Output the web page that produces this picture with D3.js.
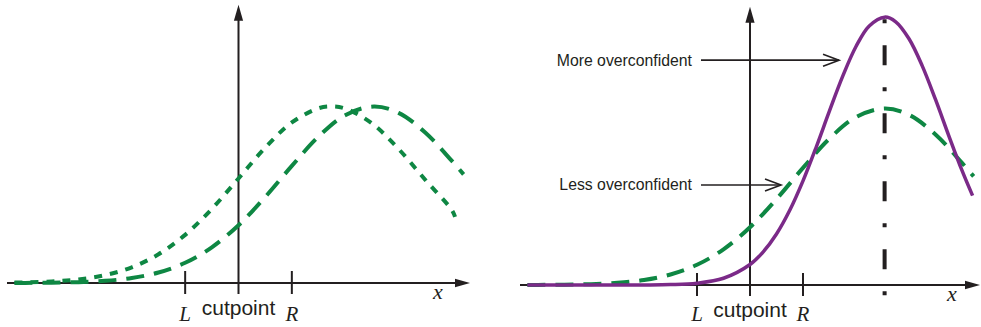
<!DOCTYPE html>
<html>
<head>
<meta charset="utf-8">
<script src="https://cdn.jsdelivr.net/npm/d3@7"></script>
<style>
html,body{margin:0;padding:0;background:#fff;}
svg{display:block;}
</style>
</head>
<body>
<svg id="chart" width="981" height="327"></svg>
<script>
// ---------- DATA ----------
const tickValues = [-1, 0, 1];
const tickLabels = ["L", "cutpoint", "R"];
const axisLabel = "x";
const axisExtent = [-4.34, 4.34];
const yMax = 0.37;

// left panel, short-dash curve
const shortX = [-4.2,-4,-3.5,-3,-2.5,-2,-1.5,-1,-0.5,0,0.5,1,1.5,1.74,2,2.5,3,3.5,4,4.06];
const shortY = [0.00052,0.00079,0.00203,0.00481,0.01047,0.02087,0.03818,0.06403,0.0985,0.139,0.1799,0.2135,0.2324,0.2347,0.232,0.2124,0.1783,0.1373,0.097,0.088];

// long-dash curve (left panel and right panel, less overconfident)
const longX = [-4.2,-4,-3.5,-3,-2.5,-2,-1.5,-1,-0.5,0,0.5,1,1.5,2,2.54,3,3.5,4,4.22];
const longY = [0.00009,0.00014,0.00043,0.00116,0.0029,0.00664,0.01395,0.02685,0.04744,0.07687,0.1143,0.1557,0.1947,0.2232,0.2347,0.2263,0.2001,0.1623,0.1445];

// right panel, solid purple (more overconfident)
const solidX = [-4.2,-4,-3.5,-3,-2.5,-2,-1.5,-1,-0.5,0,0.25,0.5,0.75,1,1.25,1.5,1.75,2,2.25,2.54,2.75,3,3.25,3.5,3.75,4,4.2];
const solidY = [0,0,0.0000002,0.0000017,0.0000142,0.0000963,0.000532,0.00241,0.00895,0.0272,0.0441,0.0678,0.0993,0.1384,0.1835,0.2315,0.2777,0.3171,0.3445,0.3562,0.35,0.3274,0.2914,0.2467,0.1987,0.1523,0.1188];

const modeX = 2.54;
const annotLabels = ["More overconfident", "Less overconfident"];
const annotFromX = [-0.925, -0.925];
const annotToX = [1.68, 0.585];
const annotY = [0.299, 0.133];

// ---------- STYLE ----------
const ink = "#231f20";
const green = "#0e8743";
const purple = "#7b2a88";

const svg = d3.select("#chart");

function makePanel(opts) {
  const g = svg.append("g");
  const x = d3.scaleLinear().domain(axisExtent).range(opts.xRange);
  const y = d3.scaleLinear().domain([0, yMax]).range([opts.base, opts.base - yMax * 752]);
  const x0 = x(0);

  // x axis line with arrow
  const xEnd = x(axisExtent[1]);
  g.append("line").attr("x1", x(axisExtent[0])).attr("x2", xEnd - 10)
    .attr("y1", y(0)).attr("y2", y(0)).attr("stroke", ink).attr("stroke-width", 2);
  g.append("path").attr("d", `M${xEnd},${y(0)} L${xEnd-15},${y(0)-4.2} L${xEnd-15},${y(0)+4.2} Z`).attr("fill", ink);

  // y axis with arrow
  const yTop = y(yMax);
  g.append("line").attr("x1", x0).attr("x2", x0).attr("y1", y(0) + 11).attr("y2", yTop + 10)
    .attr("stroke", ink).attr("stroke-width", 2);
  g.append("path").attr("d", `M${x0},${yTop} L${x0-4.6},${yTop+16} L${x0+4.6},${yTop+16} Z`).attr("fill", ink);

  // ticks L, R
  tickValues.forEach((v, i) => {
    if (v !== 0) {
      g.append("line").attr("x1", x(v)).attr("x2", x(v)).attr("y1", y(0) - 12).attr("y2", y(0) + 11)
        .attr("stroke", ink).attr("stroke-width", 2);
    }
    const t = g.append("text").attr("x", x(v)).attr("text-anchor", "middle").attr("fill", ink).text(tickLabels[i]);
    if (v === 0) {
      t.attr("y", opts.base + 32).attr("font-family", "Liberation Sans, Arial, sans-serif").attr("font-size", 21);
    } else {
      t.attr("y", 321).attr("font-family", "Liberation Serif, Times New Roman, serif")
        .attr("font-style", "italic").attr("font-size", 21);
    }
  });
  g.append("text").attr("x", opts.xLabelX).attr("y", opts.base + 16).attr("text-anchor", "middle")
    .attr("font-family", "Liberation Serif, Times New Roman, serif").attr("font-style", "italic")
    .attr("font-size", 22).attr("fill", ink).text(axisLabel);

  return {g, x, y};
}

function drawCurve(p, xs, ys, color, dash, width) {
  const line = d3.line().x(d => p.x(d[0])).y(d => p.y(d[1])).curve(d3.curveCatmullRom.alpha(0.5));
  p.g.append("path").attr("d", line(xs.map((v, i) => [v, ys[i]])))
    .attr("fill", "none").attr("stroke", color).attr("stroke-width", width)
    .attr("stroke-dasharray", dash);
}

// left panel
const left = makePanel({xRange: [7, 470], base: 283, xLabelX: 438});
drawCurve(left, shortX, shortY, green, "8,8", 4);
drawCurve(left, longX, longY, green, "18,10", 4);

// right panel
const right = makePanel({xRange: [520, 980], base: 285, xLabelX: 952});
// mode line
right.g.append("line").attr("x1", right.x(modeX)).attr("x2", right.x(modeX))
  .attr("y1", right.y(0.3562) + 2).attr("y2", right.y(0) + 11)
  .attr("stroke", ink).attr("stroke-width", 4).attr("stroke-dasharray", "4,22,20,22");
drawCurve(right, longX, longY, green, "18,10", 4);
drawCurve(right, solidX, solidY, purple, null, 3.5);

// annotations
annotLabels.forEach((lab, i) => {
  const yy = right.y(annotY[i]);
  const x1 = right.x(annotFromX[i]);
  const x2 = right.x(annotToX[i]);
  right.g.append("text").attr("x", x1 - 9).attr("y", yy + 5.5).attr("text-anchor", "end")
    .attr("font-family", "Liberation Sans, Arial, sans-serif").attr("font-size", 15.8)
    .attr("fill", ink).text(lab);
  right.g.append("line").attr("x1", x1).attr("x2", x2).attr("y1", yy).attr("y2", yy)
    .attr("stroke", ink).attr("stroke-width", 1.6);
  right.g.append("path").attr("d", `M${x2-16},${yy-6} L${x2},${yy} L${x2-16},${yy+6}`)
    .attr("fill", "none").attr("stroke", ink).attr("stroke-width", 1.6);
});
</script>
</body>
</html>
